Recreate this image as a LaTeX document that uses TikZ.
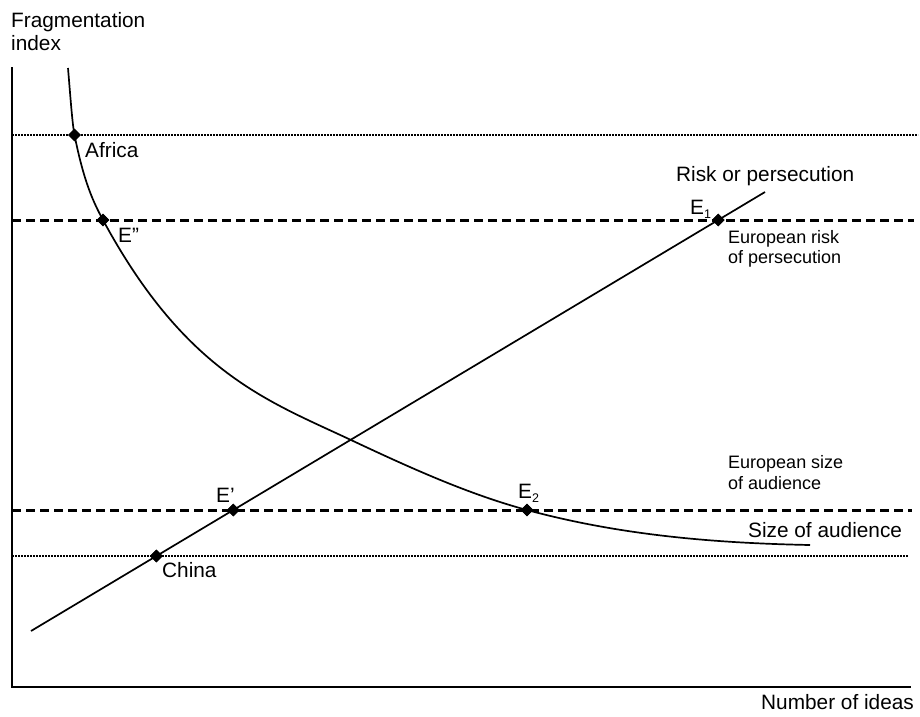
\documentclass[tikz,border=0pt]{standalone}
\usepackage{fontspec}
\setmainfont{Liberation Sans}
\usetikzlibrary{shapes.geometric}
\newcommand{\subsc}[1]{\raisebox{-4pt}{\fontsize{12.5}{12}\selectfont #1}}
\begin{document}
\begin{tikzpicture}[x=1pt,y=-1pt,
  lbl/.style={anchor=base west, inner sep=0, font=\fontsize{20.8}{24}\selectfont},
  slbl/.style={anchor=base west, inner sep=0, font=\fontsize{18}{20}\selectfont},
  axisline/.style={line width=1.9pt},
  curveline/.style={line width=1.7pt},
  dotline/.style={line width=2.4pt, dash pattern=on 1.6pt off 1.4pt},
  dashline/.style={line width=3pt, dash pattern=on 9pt off 5pt},
  pt/.style={diamond, fill=black, inner sep=0, minimum size=12.5pt}]
\useasboundingbox (0,0) rectangle (920,716);
% axes
\coordinate (ytop) at (12,67);
\coordinate (orig) at (12,687);
\coordinate (xend) at (911,687);
\draw[axisline] (ytop) -- (orig) -- (xend);
% horizontal reference lines
\coordinate (h1a) at (12,135); \coordinate (h1b) at (918,135);
\coordinate (h2a) at (12,220); \coordinate (h2b) at (914,220);
\coordinate (h3a) at (12,510); \coordinate (h3b) at (912,510);
\coordinate (h4a) at (12,556); \coordinate (h4b) at (908,556);
\draw[dotline] (h1a) -- (h1b);
\draw[dashline] (h2a) -- (h2b);
\draw[dashline] (h3a) -- (h3b);
\draw[dotline] (h4a) -- (h4b);
% risk line
\coordinate (r0) at (31,631);
\coordinate (r1) at (765,192);
\draw[curveline] (r0) -- (r1);
% points
\node[pt] (africa) at (74.5,135) {};
\node[pt] (Edd) at (103,220) {};
\node[pt] (E1) at (718.2,220) {};
\node[pt] (Ep) at (233.3,510) {};
\node[pt] (E2) at (527,510) {};
\node[pt] (china) at (156.4,556) {};
% size of audience curve
\coordinate (c0) at (68,68);
\coordinate (c5) at (351,440);
\coordinate (c8) at (810,545);
\draw[curveline] (c0)
  .. controls (70.17,94.0) and (72.33,124.2) .. (africa.center)
  .. controls (84,182.5) and (93.5,202.4) .. (Edd.center)
  .. controls (185.67,372.9) and (268.33,401.1) .. (c5)
  .. controls (409.67,467.6) and (468.33,494.2) .. (E2.center)
  .. controls (621.33,535.5) and (715.67,543.1) .. (c8);
% redraw points on top
\foreach \p in {africa,Edd,E1,Ep,E2,china} \fill (\p.north) -- (\p.east) -- (\p.south) -- (\p.west) -- cycle;
% labels
\node[lbl] (ylab1) at (11,27) {Fragmentation};
\node[lbl] (ylab2) at (11,50) {index};
\node[lbl] (xlab) at (761,709) {Number of ideas};
\node[lbl] (tafrica) at (85,157) {Africa};
\node[lbl] (tEdd) at (118,242) {E”};
\node[lbl] (trisk) at (676,181) {Risk or persecution};
\node[lbl] (tE1) at (690,214) {E\subsc{1}};
\node[slbl] (teur1) at (728,243) {European risk};
\node[slbl] (teur2) at (728,263) {of persecution};
\node[slbl] (teur3) at (728,468) {European size};
\node[slbl] (teur4) at (728,489) {of audience};
\node[lbl] (tEp) at (216,502) {E’};
\node[lbl] (tE2) at (518,498) {E\subsc{2}};
\node[lbl] (tsize) at (748,537) {Size of audience};
\node[lbl] (tchina) at (162,577) {China};
\end{tikzpicture}
\end{document}
